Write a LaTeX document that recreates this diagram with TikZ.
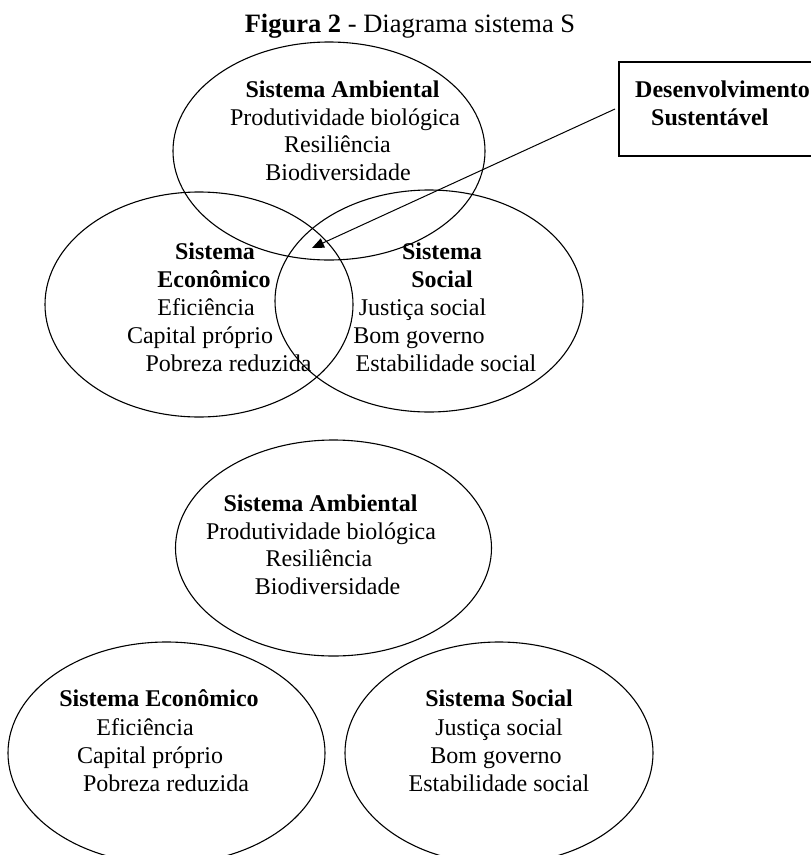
\documentclass[tikz,border=0pt]{standalone}
\usepackage{fontspec}
\setmainfont{Liberation Serif}
\usetikzlibrary{shapes.geometric,arrows.meta}
\tikzset{
  sysell/.style={draw, ellipse, line width=1.1pt, inner sep=0pt, outer sep=0pt},
  treg/.style={anchor=base, inner sep=0pt, font=\fontsize{24pt}{28pt}\selectfont},
  tbold/.style={anchor=base, inner sep=0pt, font=\fontsize{24pt}{28pt}\selectfont\bfseries},
  lbox/.style={draw, line width=1.3pt, inner sep=0pt, outer sep=0pt, anchor=north west},
  pointer/.style={line width=1pt, -{Triangle[length=12pt,width=10pt]}}
}
\begin{document}
\begin{tikzpicture}[x=1pt,y=-1pt]
\clip (0,0) rectangle (811,855);
% title
\node[anchor=base, inner sep=0pt, font=\fontsize{26.5pt}{30pt}\selectfont] (title) at (410,32) {\textbf{Figura 2} - Diagrama sistema S};

% ---- upper Venn diagram ----
\node[sysell, minimum width=312pt, minimum height=218pt] (ambA) at (329,151) {};
\node[sysell, minimum width=308pt, minimum height=225pt] (ecoA) at (199,304.5) {};
\node[sysell, minimum width=308pt, minimum height=222pt] (socA) at (429,301) {};

\node[tbold] (ambA1) at (342.5,97) {Sistema Ambiental};
\node[treg] (ambA2) at (345,125) {Produtividade biológica};
\node[treg] (ambA3) at (337.5,152.5) {Resiliência};
\node[treg] (ambA4) at (338,180) {Biodiversidade};

\node[tbold] (ecoA1) at (215,259) {Sistema};
\node[tbold] (ecoA2) at (214,287) {Econômico};
\node[treg] (ecoA3) at (206,315) {Eficiência};
\node[treg] (ecoA4) at (200,343) {Capital próprio};
\node[treg] (ecoA5) at (228.5,371) {Pobreza reduzida};

\node[tbold] (socA1) at (442,259) {Sistema};
\node[tbold] (socA2) at (442,287) {Social};
\node[treg] (socA3) at (422.5,315) {Justiça social};
\node[treg] (socA4) at (419,343) {Bom governo};
\node[treg] (socA5) at (446,371) {Estabilidade social};

% box
\node[lbox, minimum width=200pt, minimum height=94pt] (ds) at (619,62) {};
\node[tbold, anchor=base west] (ds1) at (635,97) {Desenvolvimento};
\node[tbold, anchor=base west] (ds2) at (651,125) {Sustentável};
\coordinate (dstip) at (312,248);
\draw[pointer] ([xshift=-4pt]ds.west) -- (dstip);

% ---- lower diagram ----
\node[sysell, minimum width=316pt, minimum height=216pt] (ambB) at (333.5,548) {};
\node[sysell, minimum width=317pt, minimum height=222pt] (ecoB) at (166.5,753) {};
\node[sysell, minimum width=308pt, minimum height=222pt] (socB) at (499,753) {};

\node[tbold] (ambB1) at (320.5,511) {Sistema Ambiental};
\node[treg] (ambB2) at (321,539) {Produtividade biológica};
\node[treg] (ambB3) at (319,566.5) {Resiliência};
\node[treg] (ambB4) at (327.5,594) {Biodiversidade};

\node[tbold] (ecoB1) at (159,706) {Sistema Econômico};
\node[treg] (ecoB2) at (145,735) {Eficiência};
\node[treg] (ecoB3) at (150,763) {Capital próprio};
\node[treg] (ecoB4) at (166,791) {Pobreza reduzida};

\node[tbold] (socB1) at (499,706) {Sistema Social};
\node[treg] (socB2) at (499,735) {Justiça social};
\node[treg] (socB3) at (496,763) {Bom governo};
\node[treg] (socB4) at (499,791) {Estabilidade social};
\end{tikzpicture}
\end{document}
